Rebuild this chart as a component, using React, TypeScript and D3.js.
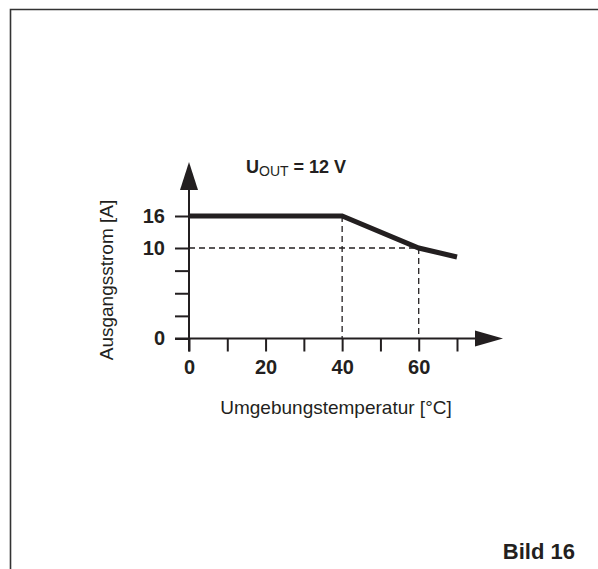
import React from "react";
import * as d3 from "d3";

// derating curve: ambient temperature [°C] -> output current [A]
const temps = [0, 40, 60, 70];
const currents = [16, 16, 10, 9];

const xTicks = [0, 10, 20, 30, 40, 50, 60, 70];
const xLabels = [0, 20, 40, 60];
const yTicks = [0, 2.5, 5, 7.5, 10, 16];
const yLabels = [0, 10, 16];
const guideTemps = [40, 60];

const FONT = "'Liberation Sans', Arial, Helvetica, sans-serif";
const INK = "#231f20";

const App = () => {
  const width = 598;
  const height = 569;
  const origin = { x: 189, y: 338.5 };

  const xAxis = React.useRef<SVGGElement>(null);
  const yAxis = React.useRef<SVGGElement>(null);

  // schematic chart: x is linear, y is stretched piecewise like the datasheet
  const xScale = d3.scaleLinear().domain([0, 70]).range([origin.x, 457]);
  const yScale = d3.scaleLinear().domain([0, 10, 16]).range([origin.y, 248, 216]);

  React.useEffect(() => {
    const ax = d3
      .axisBottom(xScale)
      .tickValues(xTicks)
      .tickSize(13)
      .tickSizeOuter(0)
      .tickPadding(8)
      .tickFormat((d) => (xLabels.includes(+d) ? String(d) : ""));
    const ay = d3
      .axisLeft(yScale)
      .tickValues(yTicks)
      .tickSize(14)
      .tickSizeOuter(0)
      .tickPadding(10)
      .tickFormat((d) => (yLabels.includes(+d) ? String(d) : ""));

    [
      [xAxis.current, ax],
      [yAxis.current, ay],
    ].forEach(([node, axis]: any) => {
      const g = d3.select(node);
      g.call(axis);
      g.select(".domain").remove();
      g.selectAll(".tick line").attr("stroke", INK).attr("stroke-width", 2);
      g.selectAll(".tick text")
        .attr("fill", INK)
        .style("font-family", FONT)
        .style("font-size", "20px")
        .style("font-weight", "bold");
    });
  }, []);

  const line = d3
    .line<number>()
    .x((_, i) => xScale(temps[i]))
    .y((d) => yScale(d));

  const xEnd = xScale(70) + 18;
  const yTop = yScale(16) - 26;

  return (
    <svg
      width={width}
      height={height}
      style={{ position: "absolute", left: 0, top: 0, background: "#fff" }}
    >
      {/* frame */}
      <path d={`M10.5,${height} V9.5 H${width}`} fill="none" stroke="#333" strokeWidth={1.6} />

      {/* guide lines */}
      <g stroke={INK} strokeWidth={1.3} strokeDasharray="6,4" fill="none">
        <line x1={origin.x} x2={xScale(60)} y1={yScale(10)} y2={yScale(10)} />
        {guideTemps.map((t) => (
          <line
            key={t}
            x1={xScale(t)}
            x2={xScale(t)}
            y1={yScale(currents[temps.indexOf(t)])}
            y2={origin.y}
          />
        ))}
      </g>

      {/* axes with arrows */}
      <g stroke={INK} strokeWidth={2}>
        <line x1={origin.x - 14} x2={xEnd} y1={origin.y} y2={origin.y} />
        <line x1={origin.x} x2={origin.x} y1={origin.y + 13} y2={yTop} />
      </g>
      <path
        d={`M${xEnd},${origin.y - 8} L${xEnd + 28},${origin.y} L${xEnd},${origin.y + 8} Z`}
        fill={INK}
      />
      <path
        d={`M${origin.x - 9},${yTop} L${origin.x},${yTop - 28} L${origin.x + 9},${yTop} Z`}
        fill={INK}
      />
      <g ref={xAxis} transform={`translate(0, ${origin.y})`} />
      <g ref={yAxis} transform={`translate(${origin.x}, 0)`} />

      {/* curve */}
      <path
        d={line(currents) || ""}
        fill="none"
        stroke={INK}
        strokeWidth={5}
        strokeLinejoin="miter"
      />

      <g fill={INK} style={{ fontFamily: FONT }}>
        <text x={246} y={173} fontSize={18} fontWeight="bold">
          U
          <tspan fontSize={14} fontWeight="normal" dy={3}>
            OUT
          </tspan>
          <tspan dy={-3}> = 12 V</tspan>
        </text>
        <text x={336} y={414} fontSize={19} textAnchor="middle">
          Umgebungstemperatur [°C]
        </text>
        <text
          transform={`translate(113, 280) rotate(-90)`}
          fontSize={19}
          textAnchor="middle"
        >
          Ausgangsstrom [A]
        </text>
        <text x={575} y={559} fontSize={22} fontWeight="bold" textAnchor="end">
          Bild 16
        </text>
      </g>
    </svg>
  );
};

export default App;
